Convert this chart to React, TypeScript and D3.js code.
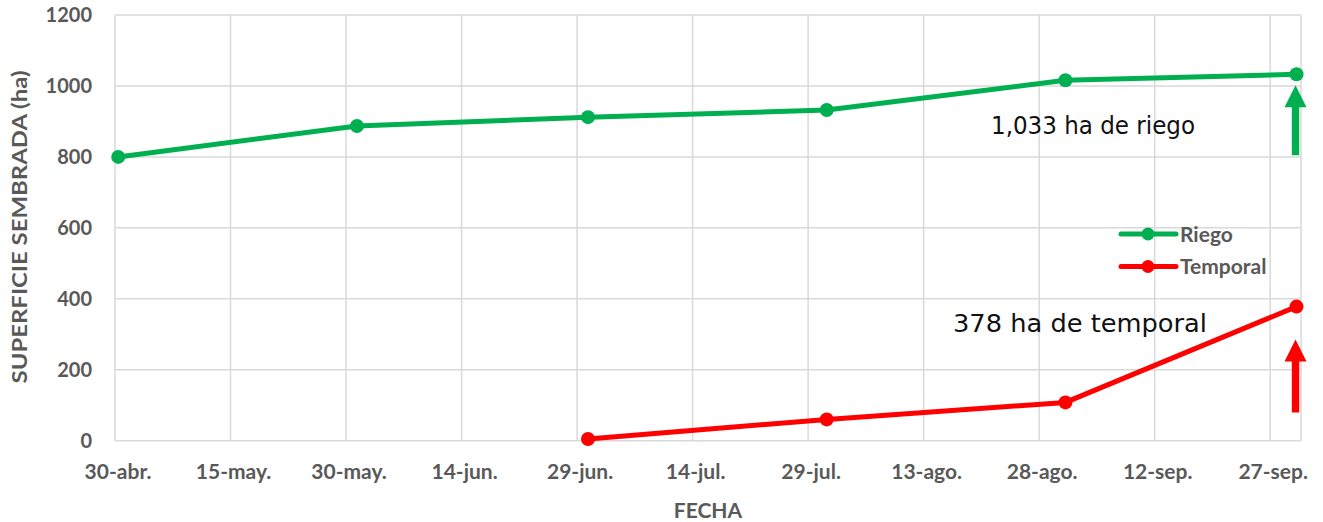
import React, { useRef, useEffect } from "react";
import * as d3 from "d3";

// fechas de los puntos (hora para centrar como en la gráfica original)
const riegoDates = ["2023-04-30", "2023-05-31", "2023-06-30", "2023-07-31", "2023-08-31", "2023-09-30"];
const riegoValues = [800, 887, 912, 932, 1016, 1033];

const temporalDates = ["2023-06-30", "2023-07-31", "2023-08-31", "2023-09-30"];
const temporalValues = [5, 60, 108, 378];

const tickDates = [
  "2023-04-30", "2023-05-15", "2023-05-30", "2023-06-14", "2023-06-29", "2023-07-14",
  "2023-07-29", "2023-08-13", "2023-08-28", "2023-09-12", "2023-09-27",
];
const tickLabels = [
  "30-abr.", "15-may.", "30-may.", "14-jun.", "29-jun.", "14-jul.",
  "29-jul.", "13-ago.", "28-ago.", "12-sep.", "27-sep.",
];
const yTicks = [0, 200, 400, 600, 800, 1000, 1200];

const GREEN = "#00B050";
const RED = "#FF0000";
const GRAY = "#595959";
const GRID = "#D9D9D9";

const parse = (s: string, h = 0) => {
  const d = new Date(s + "T00:00:00Z");
  return d3.utcHour.offset(d, h);
};

const App = () => {
  const svgRef = useRef<SVGSVGElement>(null);

  useEffect(() => {
    const svg = d3.select(svgRef.current);
    svg.selectAll("*").remove();

    const width = 1323,
      height = 522;

    const x = d3
      .scaleUtc()
      .domain([parse("2023-04-30"), parse("2023-10-01")])
      .range([115, 1301]);

    const y = d3.scaleLinear().domain([0, 1200]).range([440.7, 15]);

    const grid = svg.append("g");
    // horizontal grid
    grid
      .selectAll("line.h")
      .data(yTicks)
      .join("line")
      .attr("x1", x.range()[0])
      .attr("x2", x.range()[1])
      .attr("y1", (d) => y(d))
      .attr("y2", (d) => y(d))
      .attr("stroke", GRID)
      .attr("stroke-width", 1.5);
    // vertical grid
    grid
      .selectAll("line.v")
      .data(tickDates)
      .join("line")
      .attr("x1", (d) => x(parse(d)))
      .attr("x2", (d) => x(parse(d)))
      .attr("y1", y(0))
      .attr("y2", y(1200))
      .attr("stroke", GRID)
      .attr("stroke-width", 1.5);
    grid
      .append("line")
      .attr("x1", x.range()[1])
      .attr("x2", x.range()[1])
      .attr("y1", y(0))
      .attr("y2", y(1200))
      .attr("stroke", GRID)
      .attr("stroke-width", 1.5);

    // Y axis ticks
    svg
      .append("g")
      .selectAll("text")
      .data(yTicks)
      .join("text")
      .attr("x", 92)
      .attr("y", (d) => y(d))
      .attr("dy", "0.36em")
      .attr("text-anchor", "end")
      .attr("fill", GRAY)
      .style("font-family", "Lato")
      .style("font-weight", "bold")
      .style("font-size", "20px")
      .text((d) => d);

    // X axis ticks
    svg
      .append("g")
      .selectAll("text")
      .data(tickDates)
      .join("text")
      .attr("x", (d) => x(parse(d)) + 3)
      .attr("y", 479)
      .attr("text-anchor", "middle")
      .attr("fill", GRAY)
      .style("font-family", "Lato")
      .style("font-weight", "bold")
      .style("font-size", "21px")
      .text((d, i) => tickLabels[i]);

    // axis titles
    svg
      .append("text")
      .attr("transform", "translate(27, 227) rotate(-90)")
      .attr("text-anchor", "middle")
      .attr("fill", GRAY)
      .attr("textLength", 313)
      .attr("lengthAdjust", "spacingAndGlyphs")
      .style("font-family", "Lato")
      .style("font-weight", "bold")
      .style("font-size", "21px")
      .text("SUPERFICIE SEMBRADA (ha)");

    svg
      .append("text")
      .attr("x", 708)
      .attr("y", 518)
      .attr("text-anchor", "middle")
      .attr("fill", GRAY)
      .style("font-family", "Lato")
      .style("font-weight", "bold")
      .style("font-size", "21px")
      .text("FECHA");

    const series = [
      { name: "Riego", color: GREEN, dates: riegoDates, values: riegoValues },
      { name: "Temporal", color: RED, dates: temporalDates, values: temporalValues },
    ];

    const line = d3
      .line<[Date, number]>()
      .x((d) => x(d[0]))
      .y((d) => y(d[1]));

    series.forEach((s) => {
      const pts: [Date, number][] = s.dates.map((d, i) => [parse(d, 10), s.values[i]]);
      svg
        .append("path")
        .datum(pts)
        .attr("fill", "none")
        .attr("stroke", s.color)
        .attr("stroke-width", 5)
        .attr("stroke-linejoin", "round")
        .attr("d", line);
      svg
        .append("g")
        .selectAll("circle")
        .data(pts)
        .join("circle")
        .attr("cx", (d) => x(d[0]))
        .attr("cy", (d) => y(d[1]))
        .attr("r", 7)
        .attr("fill", s.color);
    });

    // legend
    const legend = svg.append("g");
    series.forEach((s, i) => {
      const ly = 234 + i * 32.5;
      legend
        .append("line")
        .attr("x1", 1121)
        .attr("x2", 1176)
        .attr("y1", ly)
        .attr("y2", ly)
        .attr("stroke", s.color)
        .attr("stroke-width", 5)
        .attr("stroke-linecap", "round");
      legend
        .append("circle")
        .attr("cx", 1148)
        .attr("cy", ly)
        .attr("r", 6.5)
        .attr("fill", s.color);
      legend
        .append("text")
        .attr("x", 1180)
        .attr("y", ly)
        .attr("dy", "0.36em")
        .attr("fill", GRAY)
        .style("font-family", "Lato")
        .style("font-weight", "bold")
        .style("font-size", "21px")
        .text(s.name);
    });

    // arrows
    const arrow = (cx: number, tip: number, base: number, color: string) => {
      const head = 22;
      const p = d3.path();
      p.moveTo(cx, tip);
      p.lineTo(cx + 11, tip + head);
      p.lineTo(cx + 3.7, tip + head);
      p.lineTo(cx + 3.7, base);
      p.lineTo(cx - 3.7, base);
      p.lineTo(cx - 3.7, tip + head);
      p.lineTo(cx - 11, tip + head);
      p.closePath();
      svg.append("path").attr("d", p.toString()).attr("fill", color);
    };
    const lastX = x(parse(riegoDates[riegoDates.length - 1], 10));
    const gTip = y(riegoValues[riegoValues.length - 1]) + 11;
    arrow(lastX - 1, gTip, gTip + 70, GREEN);
    const rTip = y(temporalValues[temporalValues.length - 1]) + 33;
    arrow(lastX - 1, rTip, rTip + 73, RED);

    // annotations
    svg
      .append("text")
      .attr("x", 991)
      .attr("y", 133.5)
      .attr("fill", "#111")
      .attr("textLength", 204)
      .attr("lengthAdjust", "spacingAndGlyphs")
      .style("font-family", "DejaVu Sans")
      .style("font-size", "24px")
      .text("1,033 ha de riego");

    svg
      .append("text")
      .attr("x", 953)
      .attr("y", 331.5)
      .attr("fill", "#111")
      .attr("textLength", 254)
      .attr("lengthAdjust", "spacingAndGlyphs")
      .style("font-family", "DejaVu Sans")
      .style("font-size", "24px")
      .text("378 ha de temporal");

    svg.attr("width", width).attr("height", height);
  }, []);

  return (
    <div style={{ position: "absolute", left: 0, top: 0 }}>
      <svg ref={svgRef} width={1323} height={522} style={{ display: "block", background: "white" }}></svg>
    </div>
  );
};

export default App;
